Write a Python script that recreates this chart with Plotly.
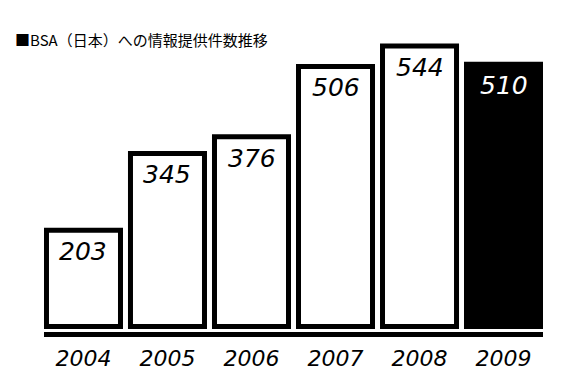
import plotly.graph_objects as go

# ---- data ----
years = ["2004", "2005", "2006", "2007", "2008", "2009"]
counts = [203, 345, 376, 506, 544, 510]
title_text = "■BSA（日本）への情報提供件数推移"

# ---- styling / layout constants ----
AXIS_FLOOR = 25          # the original chart's value axis does not start at zero
Y_RANGE = [14.8, 573.4]
fill_colors = ["white"] * 5 + ["black"]
label_colors = ["black"] * 5 + ["white"]
NUM_FONT = "DejaVu Sans"
W, H = 554, 384          # page body has an 8px margin

fig = go.Figure()
fig.add_trace(go.Bar(
    x=years,
    y=[c - AXIS_FLOOR for c in counts],
    base=AXIS_FLOOR,
    marker=dict(color=fill_colors, line=dict(color="black", width=5)),
    hoverinfo="skip",
))

for i, (c, col) in enumerate(zip(counts, label_colors)):
    fig.add_annotation(
        x=i, y=c, xref="x", yref="y",
        text=str(c), showarrow=False,
        yanchor="top", yshift=-5,
        font=dict(family=NUM_FONT, size=25, color=col, style="italic", weight=200),
    )

fig.update_layout(
    width=W, height=H,
    margin=dict(l=36, r=19, t=22, b=60),
    paper_bgcolor="white", plot_bgcolor="white",
    bargap=0.119,
    showlegend=False,
    title=dict(
        text=title_text,
        x=7 / W, xref="container", xanchor="left",
        y=1 - 33 / H, yref="container", yanchor="middle",
        font=dict(family="Noto Sans CJK JP", size=15, color="black"),
    ),
    xaxis=dict(
        type="category",
        range=[-0.47, 5.47],
        showline=True, linewidth=5, linecolor="black",
        ticks="", showgrid=False, zeroline=False,
        ticklabelstandoff=3,
        tickfont=dict(family=NUM_FONT, size=22, color="black", style="italic", weight=200),
    ),
    yaxis=dict(
        range=Y_RANGE, visible=False, showgrid=False, zeroline=False,
    ),
)

fig.write_html("out.html")
